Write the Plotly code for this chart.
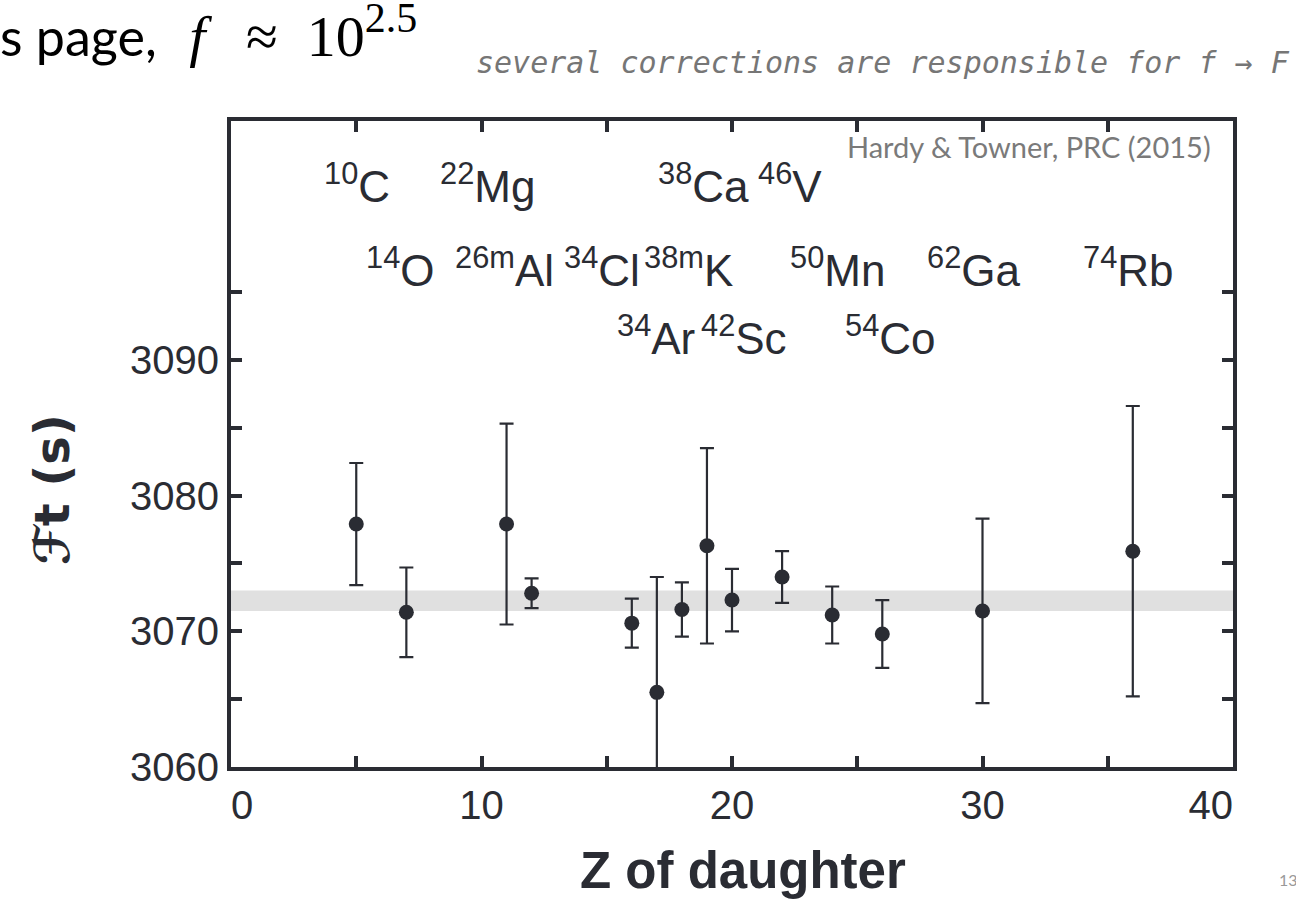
import plotly.graph_objects as go

# ---------------- data ----------------
nuclides = ["10C", "14O", "22Mg", "26mAl", "34Cl", "34Ar", "38mK", "38Ca",
            "42Sc", "46V", "50Mn", "54Co", "62Ga", "74Rb"]
z_daughter = [5, 7, 11, 12, 16, 17, 18, 19, 20, 22, 24, 26, 30, 36]
ft_values = [3077.9, 3071.4, 3077.9, 3072.8, 3070.6, 3065.5, 3071.6, 3076.3,
             3072.3, 3074.0, 3071.2, 3069.8, 3071.5, 3075.9]
ft_errors = [4.5, 3.3, 7.4, 1.1, 1.8, 8.5, 2.0, 7.2,
             2.3, 1.9, 2.1, 2.5, 6.8, 10.7]
ft_mean_low = 3071.5
ft_mean_high = 3073.0

x_tickvals = [0, 5, 10, 15, 20, 25, 30, 35, 40]
x_ticktext = ["\u00a0\u00a00", "", "10", "", "20", "", "30", "", "40\u00a0\u00a0\u00a0\u00a0"]
y_tickvals = [3060, 3065, 3070, 3075, 3080, 3085, 3090, 3095]
y_ticktext = ["3060", "", "3070", "", "3080", "", "3090", ""]

x_title = "Z of daughter"
y_title = "\u2131t (s)"

# nuclide label text (mass number, element) and their placement
label_mass = ["10", "22", "38", "46", "14", "26m", "34", "38m", "50", "62", "74", "34", "42", "54"]
label_elem = ["C", "Mg", "Ca", "V", "O", "Al", "Cl", "K", "Mn", "Ga", "Rb", "Ar", "Sc", "Co"]
label_x = [3.63, 8.26, 16.95, 20.95, 5.3, 8.87, 13.2, 16.41, 22.24, 27.69, 33.92, 15.34, 18.68, 24.43]
label_y = [3103.0, 3103.0, 3103.0, 3103.0, 3096.8, 3096.8, 3096.8, 3096.8, 3096.8, 3096.8, 3096.8,
           3091.8, 3091.8, 3091.8]

INK = "#2a2c33"
W, H = 1296, 901
ML, MR, MT, MB = 231, 63, 121, 134

def px_to_paper(px, py):
    return (px - ML) / (W - ML - MR), (H - MB - py) / (H - MT - MB)

fig = go.Figure()

fig.add_shape(type="rect", xref="x", yref="y", x0=0, x1=40,
              y0=ft_mean_low, y1=ft_mean_high,
              fillcolor="#e0e0e0", line=dict(width=0), layer="below")

fig.add_trace(go.Scatter(
    x=z_daughter, y=ft_values, mode="markers",
    marker=dict(size=15, color=INK),
    error_y=dict(type="data", array=ft_errors, visible=True,
                 color=INK, thickness=2.2, width=7),
    showlegend=False,
))

for m, e, lx, ly in zip(label_mass, label_elem, label_x, label_y):
    fig.add_annotation(x=lx, y=ly, xref="x", yref="y", xanchor="left", yanchor="middle",
                       text=f"<sup>{m}</sup>{e}", showarrow=False,
                       font=dict(family="Liberation Sans, Arial", size=44, color=INK))

# axis titles
tx, ty = px_to_paper(743, 870)
fig.add_annotation(x=tx, y=ty, xref="paper", yref="paper", xanchor="center", yanchor="middle",
                   text=f"<b>{x_title}</b>", showarrow=False,
                   font=dict(family="Liberation Sans, Arial", size=51, color=INK))
ax_, ay_ = px_to_paper(52, 490)
fig.add_annotation(x=ax_, y=ay_, xref="paper", yref="paper", xanchor="center", yanchor="middle",
                   text=f"<b>{y_title}</b>", showarrow=False, textangle=-90,
                   font=dict(family="DejaVu Sans", size=48, color=INK))

# credit
cx, cy = px_to_paper(1213, 146)
fig.add_annotation(x=cx, y=cy, xref="paper", yref="paper", xanchor="right", yanchor="middle",
                   text="Hardy &amp; Towner, PRC (2015)", showarrow=False,
                   font=dict(family="Lato, Open Sans", size=29, color="#7a7a7a"))

# slide text
sx, sy = px_to_paper(-2, 32)
fig.add_annotation(x=sx, y=sy, xref="paper", yref="paper", xanchor="left", yanchor="middle",
                   text="s page,\u2002\u2009<span style='font-family:Liberation Serif;font-style:italic;font-size:58px'>f</span>"
                        "<span style='font-family:Liberation Serif;font-size:58px'>\u2002\u2009\u2248\u200210"
                        "<sup><span style='font-size:42px'>2.5</span></sup></span>",
                   showarrow=False,
                   font=dict(family="Lato, Open Sans", size=52, color="#000000"))

hx, hy = px_to_paper(1292, 62)
fig.add_annotation(x=hx, y=hy, xref="paper", yref="paper", xanchor="right", yanchor="middle",
                   text="several corrections are responsible for f \u2192 F",
                   showarrow=False,
                   font=dict(family="DejaVu Sans Mono", size=30, color="#767676", style="italic"))

px13, py13 = px_to_paper(1288, 891)
fig.add_annotation(x=px13, y=py13, xref="paper", yref="paper", xanchor="center", yanchor="bottom",
                   text="13", showarrow=False,
                   font=dict(family="Lato", size=16, color="#999999"))

axis_common = dict(showline=True, linewidth=4, linecolor=INK, mirror="ticks",
                   ticks="inside", ticklen=11, tickwidth=3.5, tickcolor=INK,
                   showgrid=False, zeroline=False,
                   tickfont=dict(family="Liberation Sans, Arial", size=40, color=INK))

fig.update_xaxes(range=[0, 40], tickmode="array", tickvals=x_tickvals, ticktext=x_ticktext,
                 **axis_common)
fig.update_yaxes(range=[3060, 3107.6], tickmode="array", tickvals=y_tickvals, ticktext=y_ticktext,
                 **axis_common)

fig.update_layout(width=W, height=H, margin=dict(l=ML, r=MR, t=MT, b=MB),
                  paper_bgcolor="white", plot_bgcolor="white")

fig.write_html("out.html")
